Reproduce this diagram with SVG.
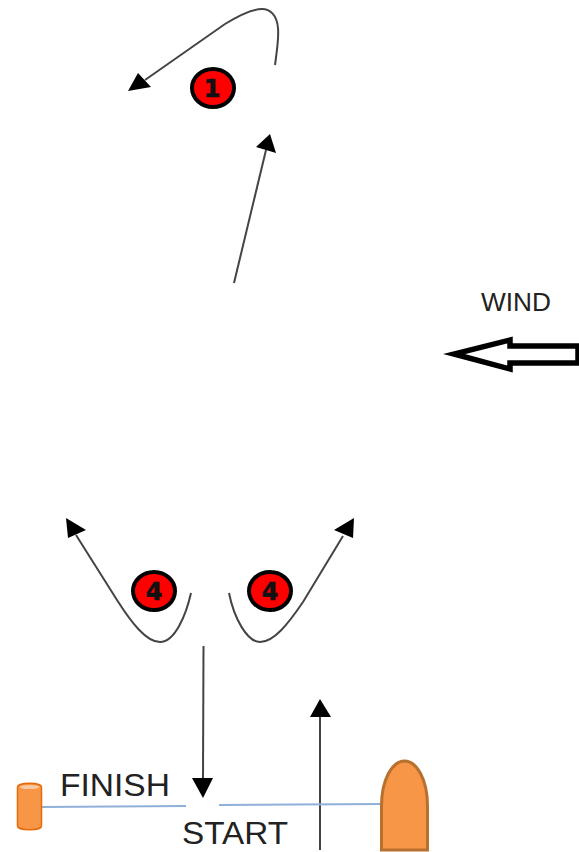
<svg xmlns="http://www.w3.org/2000/svg" width="579" height="852" viewBox="0 0 579 852">
<style>
.c{fill:none;stroke:#444;stroke-width:2}
.h{fill:#000;stroke:none}
.b{fill:#f00;stroke:#000;stroke-width:4}
.n{font-family:"DejaVu Sans",sans-serif;font-weight:700;font-size:24px;fill:#111;stroke:#111;stroke-width:.6;text-anchor:middle}
.t{font-family:"Liberation Sans",Arial,sans-serif;fill:#222}
.o{fill:#f79646}
</style>
<rect width="579" height="852" fill="#fff"/>
<g id="connectors">
<path class="c" d="M275 65C277 50 279 38 278 28C277 15 270 9 262 9C252 9 238 16 225 24L145 80"/>
<polygon class="h" points="128,91 138,73 151,87"/>
<path class="c" d="M234 283L266 150"/>
<polygon class="h" points="270,134 256,147 276,153"/>
<path class="c" d="M191 593C186 615 175 642 160 642C146 642 131 622 117 600L76 535"/>
<polygon class="h" points="66,518 86,530 68,538"/>
<path class="c" d="M229 593C234 618 247 642 260 642C274 642 288 624 303 602L343 536"/>
<polygon class="h" points="354,518 334,530 353,538"/>
<path class="c" d="M203.500 646L203 780"/>
<polygon class="h" points="203,798 192,778 213,778"/>
<path class="c" d="M320 850V715"/>
<polygon class="h" points="320,699 310,717 331,717"/>
<path d="M42 807L186 806" fill="none" stroke="#8fb0d8" stroke-width="2"/>
<path d="M219 805L382 804" fill="none" stroke="#8fb0d8" stroke-width="2"/>
</g>
<g id="badge-1"><ellipse class="b" cx="213" cy="88" rx="21" ry="19"/><text class="n" x="212" y="97">1</text></g>
<g id="badge-4a"><ellipse class="b" cx="154" cy="591" rx="21" ry="19"/><text class="n" x="154" y="600">4</text></g>
<g id="badge-4b"><ellipse class="b" cx="270" cy="591" rx="21" ry="19"/><text class="n" x="270" y="600">4</text></g>
<g id="wind">
<text class="t" x="481" y="311" font-size="25" textLength="70" lengthAdjust="spacingAndGlyphs">WIND</text>
<path d="M578 346H510V340L454 354L510 369V363H578Z" fill="#fff" stroke="#000" stroke-width="5.500" stroke-miterlimit="12"/>
</g>
<g id="finish-mark">
<path class="o" d="M17.500 787C17.500 782 41.500 782 41.500 787V826C41.500 831 17.500 831 17.500 826Z" stroke="#e46c0a" stroke-width="1.500"/>
<ellipse cx="29.500" cy="787" rx="10" ry="2" fill="#fbcaa2"/>
</g>
<g id="start-mark">
<path class="o" d="M381.500 850V806C381.500 780 392 761 404.500 761C417 761 427.500 780 427.500 806V850Z" stroke="#b8702e" stroke-width="3"/>
</g>
<g id="finish-label"><text class="t" x="60" y="796" font-size="31" textLength="110" lengthAdjust="spacingAndGlyphs">FINISH</text></g>
<g id="start-label"><text class="t" x="182" y="844" font-size="31" textLength="106" lengthAdjust="spacingAndGlyphs">START</text></g>
</svg>
